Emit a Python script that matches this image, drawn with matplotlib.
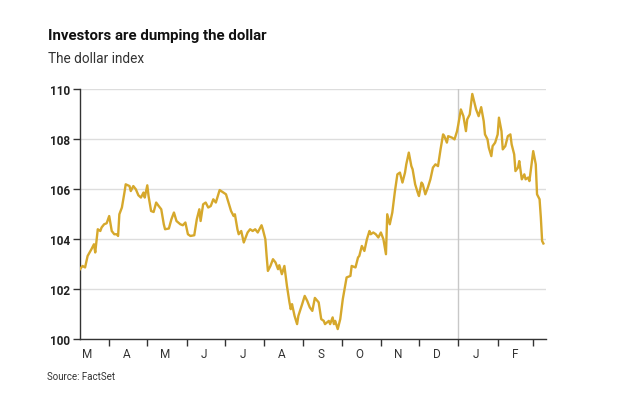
import matplotlib
matplotlib.use("Agg")
import matplotlib.pyplot as plt
import matplotlib.dates as mdates
import numpy as np

plt.rcParams['font.family'] = ['Roboto', 'DejaVu Sans']

# days after the first observation (9 March) and the index level
start = np.datetime64('2021-03-09')
days = [0, 2, 4, 6, 9, 11, 12, 14, 16, 17, 19, 21, 23, 25, 27, 29, 30, 31, 33, 35,
        36, 39, 40, 42, 44, 46, 48, 50, 51, 53, 54, 56, 58, 60, 62, 64, 66, 67, 70, 72,
        74, 76, 79, 81, 83, 85, 87, 90, 92, 94, 95, 97, 99, 101, 103, 105, 107, 109, 110, 113,
        115, 117, 119, 121, 122, 124, 125, 127, 129, 132, 134, 136, 138, 140, 143, 144, 146, 147, 148, 150,
        152, 154, 156, 157, 159, 161, 163, 165, 166, 167, 169, 171, 172, 175, 177, 179, 181, 183, 185, 188,
        190, 192, 193, 196, 197, 199, 200, 201, 203, 205, 207, 210, 213, 214, 217, 219, 220, 222, 224, 226,
        228, 229, 231, 233, 235, 237, 239, 241, 242, 244, 246, 248, 250, 252, 254, 256, 257, 259, 261, 262,
        264, 266, 267, 269, 270, 272, 274, 276, 278, 280, 282, 284, 286, 287, 289, 290, 293, 295, 297, 298,
        300, 302, 304, 305, 307, 309, 312, 314, 316, 318, 319, 321, 322, 324, 325, 327, 329, 330, 332, 333,
        335, 337, 339, 340, 342, 343, 345, 346, 348, 350, 351, 353, 354, 356, 357, 359, 360, 362, 363, 364,
        365]
index = [102.80, 102.93, 102.87, 103.33, 103.60, 103.80, 103.47, 104.40, 104.33, 104.47,
         104.60, 104.64, 104.93, 104.33, 104.20, 104.20, 104.13, 105.00, 105.27, 105.87,
         106.20, 106.13, 105.93, 106.13, 106.00, 105.76, 105.67, 105.87, 105.67, 106.16,
         105.73, 105.13, 105.09, 105.47, 105.33, 105.20, 104.60, 104.40, 104.43, 104.80,
         105.07, 104.73, 104.60, 104.56, 104.67, 104.20, 104.13, 104.16, 104.80, 105.20,
         104.73, 105.40, 105.47, 105.27, 105.33, 105.60, 105.47, 105.80, 105.97, 105.87,
         105.80, 105.47, 105.13, 104.93, 105.00, 104.40, 104.20, 104.33, 103.87, 104.27,
         104.40, 104.33, 104.40, 104.27, 104.56, 104.40, 104.00, 103.33, 102.73, 102.93,
         103.20, 103.07, 102.80, 102.96, 102.60, 102.93, 102.13, 101.47, 101.20, 101.40,
         100.93, 100.60, 100.93, 101.40, 101.73, 101.53, 101.27, 101.13, 101.65, 101.47,
         100.80, 100.73, 100.60, 100.73, 100.60, 100.87, 100.60, 100.73, 100.40, 100.80,
         101.60, 102.47, 102.53, 102.93, 102.87, 103.27, 103.33, 103.73, 103.53, 104.00,
         104.33, 104.20, 104.27, 104.20, 104.07, 104.27, 104.00, 103.40, 105.00, 104.60,
         105.07, 105.90, 106.60, 106.67, 106.27, 106.67, 107.00, 107.47, 106.93, 106.80,
         106.20, 105.87, 105.73, 106.27, 106.20, 105.80, 106.07, 106.40, 106.87, 107.00,
         106.93, 107.60, 108.20, 108.13, 107.87, 108.13, 108.07, 108.00, 108.33, 108.60,
         109.20, 108.93, 108.33, 108.80, 109.00, 109.82, 109.20, 108.93, 109.29, 108.73,
         108.20, 108.00, 107.67, 107.33, 107.73, 107.87, 108.20, 108.87, 108.33, 107.60,
         107.73, 108.13, 108.20, 107.80, 107.40, 106.73, 106.87, 107.13, 106.40, 106.60,
         106.40, 106.47, 106.33, 107.13, 107.53, 107.00, 105.80, 105.60, 104.87, 103.93,
         103.83]
month_labels = ['M', 'A', 'M', 'J', 'J', 'A', 'S', 'O', 'N', 'D', 'J', 'F']
y_ticks = [100, 102, 104, 106, 108, 110]

dates = start + np.array(days).astype('timedelta64[D]')

fig = plt.figure(figsize=(6.4, 4.02), dpi=100)
ax = fig.add_axes([0.125, 0.154, 0.728, 0.621])

ax.plot(dates, index, color='#d6a82c', linewidth=1.7, zorder=3)

# new-year marker
ax.axvline(np.datetime64('2022-01-01'), color='#c8c8c8', linewidth=1, zorder=1)

ax.set_ylim(100, 110)
ax.set_xlim(start, start + np.timedelta64(367, 'D'))
ax.set_yticks(y_ticks)
ax.set_yticklabels([str(v) for v in y_ticks], fontsize=8.5, fontweight='bold', color='#222222')
ax.yaxis.grid(True, color='#dddddd', linewidth=1)
ax.set_axisbelow(True)
ax.tick_params(axis='y', length=5, width=1, color='#333333', pad=2)

# month boundaries as ticks, month initials centred in between
ax.xaxis.set_major_locator(mdates.MonthLocator(bymonthday=1))
ax.xaxis.set_major_formatter(plt.NullFormatter())
ax.xaxis.set_minor_locator(mdates.MonthLocator(bymonthday=15))
minor_dates = ax.xaxis.get_minorticklocs()
ax.xaxis.set_minor_formatter(plt.FixedFormatter(month_labels[:len(minor_dates)]))
ax.tick_params(axis='x', which='major', length=5, width=1, color='#333333')
ax.tick_params(axis='x', which='minor', length=0, labelsize=8.5, labelcolor='#333333', pad=6)

for s in ['top', 'right']:
    ax.spines[s].set_visible(False)
for s in ['left', 'bottom']:
    ax.spines[s].set_color('#333333')
    ax.spines[s].set_linewidth(1)

fig.text(0.075, 0.91, 'Investors are dumping the dollar', fontsize=10.8,
         fontweight='bold', color='#111111', va='center')
fig.text(0.075, 0.853, 'The dollar index', fontsize=9.8, color='#333333', va='center')
fig.text(0.073, 0.062, 'Source: FactSet', fontsize=7, color='#333333', va='center')

fig.savefig('out.png', dpi=100, facecolor='white')
